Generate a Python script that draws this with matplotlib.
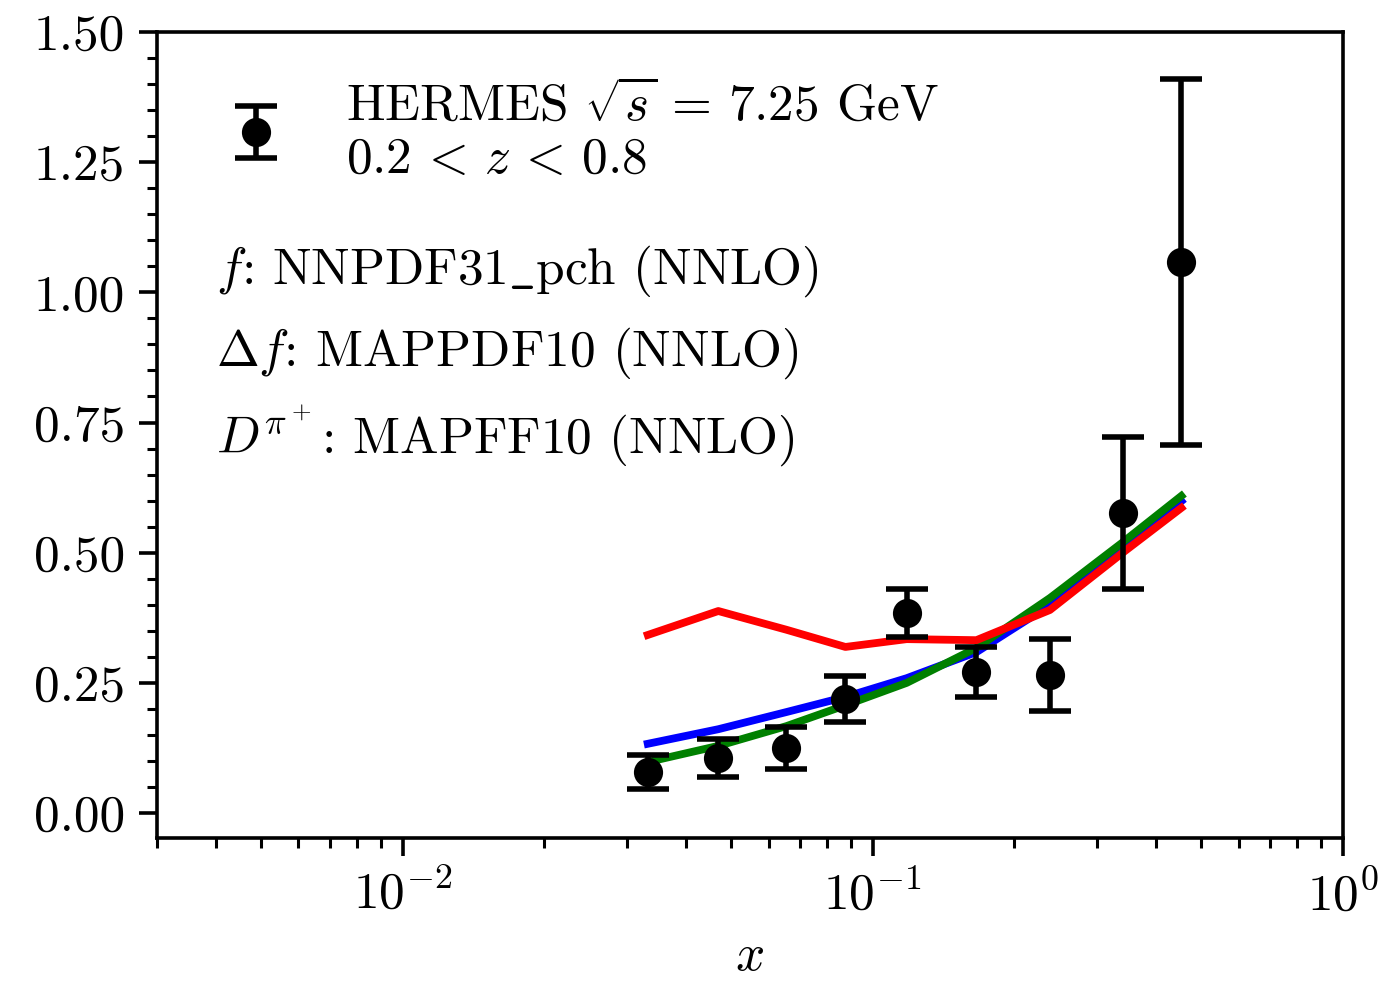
import matplotlib
matplotlib.use("Agg")
import matplotlib.pyplot as plt
from matplotlib.ticker import MultipleLocator, LogLocator, NullFormatter, FormatStrFormatter

plt.rcParams["font.family"] = "serif"
plt.rcParams["font.serif"] = ["cmr10", "DejaVu Serif"]
plt.rcParams["mathtext.fontset"] = "cm"
plt.rcParams["axes.formatter.use_mathtext"] = True
plt.rcParams["axes.unicode_minus"] = False

# HERMES pi+ data
x_data = [0.0332, 0.0469, 0.0655, 0.0874, 0.118, 0.166, 0.238, 0.340, 0.453]
y_data = [0.079, 0.106, 0.125, 0.219, 0.384, 0.271, 0.265, 0.576, 1.058]
y_err = [0.033, 0.036, 0.040, 0.045, 0.046, 0.048, 0.069, 0.146, 0.352]

# theory curves
y_blue = [0.133, 0.161, 0.194, 0.223, 0.259, 0.309, 0.399, 0.509, 0.599]
y_green = [0.098, 0.129, 0.167, 0.207, 0.250, 0.317, 0.413, 0.520, 0.609]
y_red = [0.342, 0.388, 0.352, 0.319, 0.334, 0.332, 0.390, 0.500, 0.586]

FS = 18.5

fig = plt.figure(figsize=(6.89, 4.91), dpi=200)
ax = fig.add_axes([0.1139, 0.1466, 0.8607, 0.8208])

ax.plot(x_data, y_blue, color="blue", lw=2.8, zorder=2)
ax.plot(x_data, y_green, color="green", lw=2.8, zorder=2)
ax.plot(x_data, y_red, color="red", lw=2.8, zorder=2)
ax.errorbar(x_data, y_data, yerr=y_err, fmt="o", color="black", ms=9.5,
            elinewidth=2.0, capsize=7.5, capthick=2.0, zorder=3,
            label="HERMES $\\sqrt{s}\\,=\\,7.25$ GeV\n$0.2\\,<\\,z\\,<\\,0.8$")

ax.set_xscale("log")
ax.set_xlim(3e-3, 1.0)
ax.set_ylim(-0.048, 1.5)
ax.yaxis.set_major_locator(MultipleLocator(0.25))
ax.yaxis.set_minor_locator(MultipleLocator(0.05))
ax.yaxis.set_major_formatter(FormatStrFormatter("%.2f"))
ax.xaxis.set_major_locator(LogLocator(base=10, numticks=10))
ax.xaxis.set_minor_locator(LogLocator(base=10, subs=range(2, 10), numticks=20))
ax.xaxis.set_minor_formatter(NullFormatter())

for sp in ax.spines.values():
    sp.set_linewidth(1.3)
ax.tick_params(which="major", direction="out", length=6.5, width=1.3,
               labelsize=FS, pad=5)
ax.tick_params(which="minor", direction="out", length=3.6, width=1.1)
ax.set_xlabel("$x$", fontsize=FS, labelpad=5)

ax.legend(loc="upper left", frameon=False, fontsize=FS, handlelength=1.0,
          borderaxespad=0.5, handletextpad=1.25, borderpad=0.3,
          bbox_to_anchor=(0.027, 0.99))

ax.text(0.05, 0.703, "$f$: NNPDF31$\\_$pch (NNLO)", transform=ax.transAxes,
        fontsize=FS, va="center")
ax.text(0.05, 0.601, "$\\Delta f$: MAPPDF10 (NNLO)", transform=ax.transAxes,
        fontsize=FS, va="center")
ax.text(0.05, 0.499, "$D^{\\pi^+}$: MAPFF10 (NNLO)", transform=ax.transAxes,
        fontsize=FS, va="center")

fig.savefig("out.png", dpi=200)
